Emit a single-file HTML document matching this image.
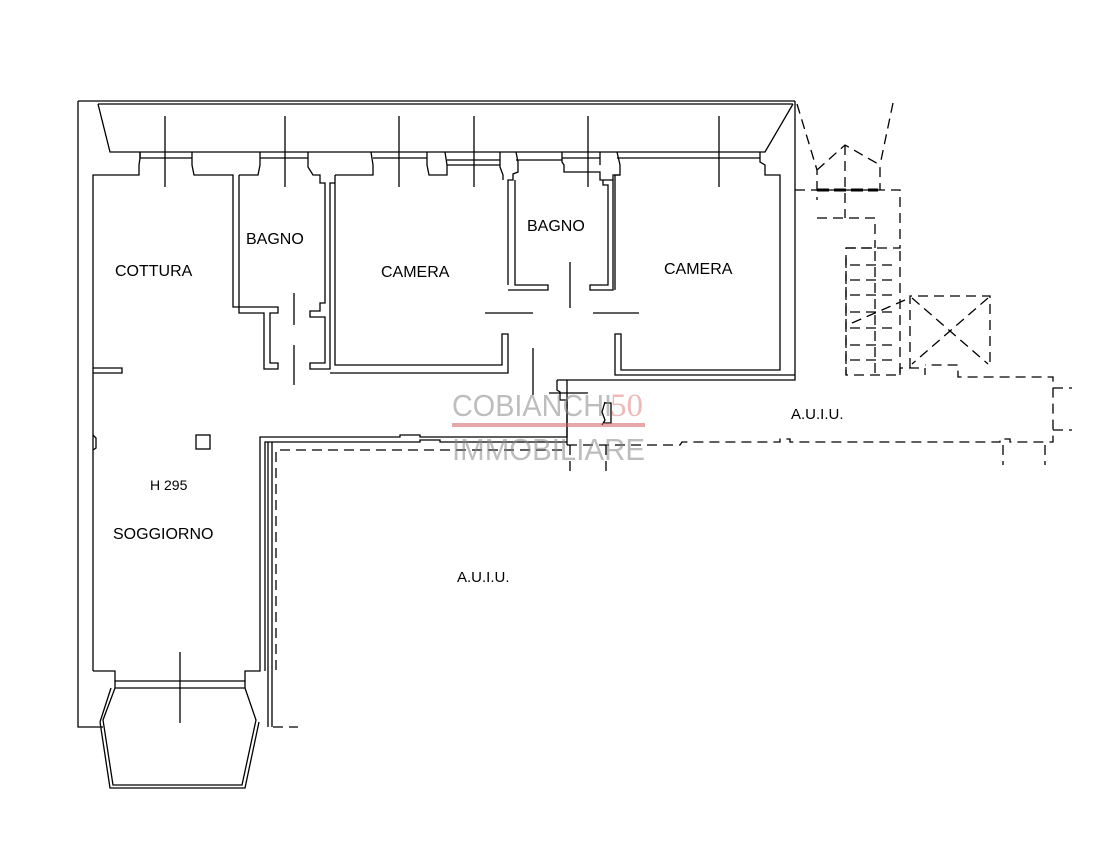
<!DOCTYPE html>
<html><head><meta charset="utf-8"><style>
html,body{margin:0;padding:0;background:#fff;width:1106px;height:854px;overflow:hidden}
svg{display:block}
text{font-family:"Liberation Sans",Arial,sans-serif;fill:#000}
</style></head><body>
<svg width="1106" height="854" viewBox="0 0 1106 854" xmlns="http://www.w3.org/2000/svg">
<g fill="none" stroke="#000" stroke-width="1.3">
<!-- outer top -->
<path d="M78,101 H795 M98,104 H793"/>
<path d="M78,101 V727 H103"/>
<path d="M98,104 L110,152 H765 L793,104"/>
<path d="M795,101 V380 H557"/>
<!-- bay windows at top -->
<path d="M140,152 V158 L139,165 V175 H93 V671"/>
<path d="M140,158 H192 M140,152 V158 M192,152 V165 L194,175 H233 V307 H278 V313 H270 V363 H278 V369 H264 V313 H239 V175"/>
<path d="M260,152 V165 L258,175 H239"/>
<path d="M260,158 H308 M308,152 V167 L313,175 H320 V183 H325 V303 H320 V311 H310 V317 H325 V363 H310 V369 H330 V183 H335"/>
<path d="M335,175 V365 H502 V334 H508 V373 H330"/>
<path d="M335,175 H373 V165 L371,152 M373,158 H427 M427,152 V165 L429,175 H447 V165 L445,152 M447,160 H500 M447,165 H500 M500,152 V167 L503,175 V180"/>
<!-- bagno 2 -->
<path d="M508,285 V180 H513 V174 L518,172 V162 L516,152 M516,160 H562 M562,152 V162 L564,165 V172 H600 V180 H613 V290 H590 V285 H608 V185 H603 V180"/>
<path d="M508,290 H548 V285 H515 V180"/>
<path d="M562,158 H600 M600,152 V165 M613,180 V175 H620 V165 L617,152 M617,158 H760 M760,152 V162 L765,165 V175 H780 V370 H621 V334 H615 V375 H795"/>
<path d="M620,175 H615 V290"/>
<!-- corridor -->
<path d="M557,380 V390 L560,392 V400 H567 V437 H420 V435 H400 V437 H260 V671 H245 V681 H115 V671 H93"/>
<path d="M567,445 V380 M567,442 H440 V440 H420 V442 H265 V671"/>
<path d="M268,442 V727 M272,442 V727"/>
<!-- bay -->
<path d="M103,720 L115,688 H245 L256,720 L242,785 H113 Z"/>
<path d="M100,722 L111,688 M259,722 L245,788 H110 L100,722"/>
<path d="M115,681 V688 M245,681 V688"/>
<!-- room label box -->
<rect x="196" y="435" width="14" height="14"/>
<path d="M93,368 H122 V373 H93"/>
<path d="M93,435 L96,438 V448 L93,450"/>
<!-- crossing lines (windows) -->
<path d="M165,116 V187 M285,116 V187 M399,116 V187 M474,116 V187 M588,116 V187 M719,116 V187 M180,652 V723"/>
<path d="M294,293 V325 M294,345 V385"/>
<path d="M570,262 V308 M485,313 H533 M593,313 H639"/>
<path d="M533,348 V395 M549,393 H588"/>
<path d="M605,402 L602,412 L605,420 L602,425 M604,403 H611 V423 H604"/>
</g>
<g fill="none" stroke="#000" stroke-width="1.3" stroke-dasharray="10,6">
<path d="M273,727 H298"/>
<path d="M276,670 V450 H567"/>
<path d="M567,445 H680 L682,442 H780 V439 H790 V442 H1000 V439 H1010 V442 H1053 V377 H958 V365 H925"/>
<path d="M1053,388 H1072 M1053,430 H1072 M1003,445 V465 M1045,445 V465 M570,445 V475 M606,445 V475"/>
<!-- stair -->
<path d="M795,190 H900 V248 H846 V375 H900 V248"/>
<path d="M846,248 H875 V375 M850,265 H898 M850,280 H898 M850,295 H898 M850,312 H898 M850,328 H898 M850,345 H898 M850,360 H898"/>
<path d="M817,218 H875 V248 M846,258 V375"/>
<path d="M900,375 V368 H925 V375 M910,368 V296 H990 V365"/>
<path d="M912,298 L988,364 M988,298 L912,364"/>
<path d="M852,323 L905,300"/>
<path d="M797,104 L817,170 V200 M817,170 L845,145 L880,165 V190 M845,145 V218 M893,103 L880,165"/>
</g>
<path d="M817,190 H878" stroke="#000" stroke-width="3" stroke-dasharray="12,5" fill="none"/>
<g font-size="16">
<text x="115" y="276">COTTURA</text>
<text x="246" y="244">BAGNO</text>
<text x="381" y="277">CAMERA</text>
<text x="527" y="231">BAGNO</text>
<text x="664" y="274">CAMERA</text>
<text x="113" y="539">SOGGIORNO</text>
<text x="150" y="490" font-size="14">H 295</text>
<text x="791" y="419" font-size="15">A.U.I.U.</text>
<text x="457" y="582" font-size="15">A.U.I.U.</text>
</g>
<!-- watermark -->
<g opacity="0.55">
<text x="452" y="416" font-size="31" style="fill:#888" textLength="160" lengthAdjust="spacingAndGlyphs">COBIANCHI</text>
<text x="610" y="416" font-size="33" style="fill:#e08080;font-family:'Liberation Serif',serif">50</text>
<rect x="452" y="423" width="193" height="4" fill="#d06060"/>
<text x="452" y="460" font-size="31" style="fill:#888" textLength="193" lengthAdjust="spacingAndGlyphs">IMMOBILIARE</text>
</g>
</svg>
</body></html>
